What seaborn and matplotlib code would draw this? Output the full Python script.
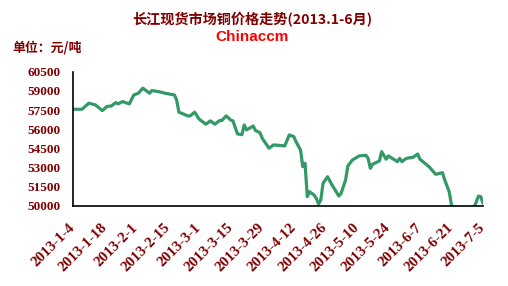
import matplotlib
matplotlib.use("Agg")
import matplotlib.pyplot as plt
import matplotlib.dates as mdates
from matplotlib.transforms import ScaledTranslation
import seaborn as sns
import pandas as pd

# ---- data ----
dates = ["2013-01-04", "2013-01-08", "2013-01-11", "2013-01-14", "2013-01-17", "2013-01-19",
         "2013-01-21", "2013-01-23", "2013-01-24", "2013-01-26", "2013-01-29", "2013-01-31",
         "2013-02-02", "2013-02-04", "2013-02-07", "2013-02-08", "2013-02-11", "2013-02-14",
         "2013-02-18", "2013-02-19", "2013-02-20", "2013-02-24", "2013-02-25", "2013-02-27",
         "2013-03-01", "2013-03-04", "2013-03-06", "2013-03-08", "2013-03-10", "2013-03-11",
         "2013-03-13", "2013-03-15", "2013-03-16", "2013-03-18", "2013-03-20", "2013-03-21",
         "2013-03-22", "2013-03-25", "2013-03-26", "2013-03-28", "2013-03-29", "2013-04-01",
         "2013-04-03", "2013-04-07", "2013-04-08", "2013-04-10", "2013-04-12", "2013-04-13",
         "2013-04-15", "2013-04-16", "2013-04-17", "2013-04-18", "2013-04-19", "2013-04-21",
         "2013-04-22", "2013-04-23", "2013-04-24", "2013-04-25", "2013-04-27", "2013-04-29",
         "2013-05-02", "2013-05-03", "2013-05-05", "2013-05-06", "2013-05-08", "2013-05-10",
         "2013-05-11", "2013-05-14", "2013-05-15", "2013-05-16", "2013-05-17", "2013-05-20",
         "2013-05-21", "2013-05-23", "2013-05-24", "2013-05-28", "2013-05-29", "2013-05-30",
         "2013-06-01", "2013-06-04", "2013-06-06", "2013-06-07", "2013-06-11", "2013-06-14",
         "2013-06-17", "2013-06-18", "2013-06-20", "2013-06-21", "2013-06-24", "2013-06-28",
         "2013-07-01", "2013-07-03", "2013-07-04", "2013-07-05"]
prices = [57570, 57570, 58040, 57910, 57460, 57780,
          57830, 58090, 57990, 58170, 57990, 58690,
          58820, 59220, 58820, 59030, 58950, 58820,
          58690, 58300, 57340, 57050, 57050, 57340,
          56790, 56400, 56660, 56400, 56680, 56680,
          57050, 56730, 56660, 55640, 55580, 56340,
          55950, 56260, 55900, 55740, 55300, 54520,
          54780, 54720, 54700, 55560, 55430, 55030,
          54380, 53080, 53340, 50730, 51120, 50860,
          50600, 50160, 50470, 51780, 52290, 51640,
          50780, 50990, 52040, 53130, 53600, 53810,
          53920, 53970, 53730, 52950, 53270, 53520,
          54250, 53660, 53920, 53470, 53730, 53470,
          53730, 53810, 54070, 53660, 53080, 52480,
          52610, 52040, 51120, 50080, 49500, 49300,
          49850, 50780, 50730, 50210]
tick_dates = ["2013-01-04", "2013-01-18", "2013-02-01", "2013-02-15", "2013-03-01",
              "2013-03-15", "2013-03-29", "2013-04-12", "2013-04-26", "2013-05-10",
              "2013-05-24", "2013-06-07", "2013-06-21", "2013-07-05"]
tick_labels = ["2013-1-4", "2013-1-18", "2013-2-1", "2013-2-15", "2013-3-1",
               "2013-3-15", "2013-3-29", "2013-4-12", "2013-4-26", "2013-5-10",
               "2013-5-24", "2013-6-7", "2013-6-21", "2013-7-5"]
y_ticks = [50000, 51500, 53000, 54500, 56000, 57500, 59000, 60500]

title = "长江现货市场铜价格走势(2013.1-6月)"
subtitle = "Chinaccm"
unit = "单位：元/吨"

# ---- style ----
sns.set_style("white")
plt.rcParams['font.family'] = ['Noto Sans CJK SC', 'DejaVu Sans']
DARK_RED = "#800000"
GREEN = "#339966"

df = pd.DataFrame({"date": pd.to_datetime(dates), "price": prices})

fig = plt.figure(figsize=(5.08, 2.86), dpi=100)
ax = fig.add_axes([73/508, 1 - 206/286, (483 - 73)/508, (206 - 71.8)/286])

sns.lineplot(data=df, x="date", y="price", ax=ax, color=GREEN, linewidth=2.3)

ax.set_xlim(pd.Timestamp("2013-01-04"), pd.Timestamp("2013-07-05"))
ax.set_ylim(50000, 60500)
ax.set_xlabel("")
ax.set_ylabel("")

ax.set_yticks(y_ticks)
ax.set_yticklabels([str(v) for v in y_ticks], family="Liberation Serif",
                   fontweight="bold", fontsize=9.5, color=DARK_RED)

ax.set_xticks(pd.to_datetime(tick_dates))
ax.set_xticklabels(tick_labels, family="Liberation Serif", fontweight="bold",
                   fontsize=10.8, color=DARK_RED, rotation=45, ha="right",
                   va="center", rotation_mode="anchor")
offset = ScaledTranslation(-8/100, 0, fig.dpi_scale_trans)
for lab in ax.get_xticklabels():
    lab.set_transform(lab.get_transform() + offset)

ax.tick_params(axis="both", direction="in", length=3, width=1, color="black")
ax.tick_params(axis="x", pad=14)
ax.tick_params(axis="y", pad=9)

for s in ["top", "right"]:
    ax.spines[s].set_visible(False)
for s in ["left", "bottom"]:
    ax.spines[s].set_color("black")
    ax.spines[s].set_linewidth(1.2)
ax.grid(False)

fig.text(252/508, 1 - 20/286, title, ha="center", va="center", fontsize=10.2,
         fontweight="bold", color=DARK_RED)
fig.text(252/508, 1 - 37/286, subtitle, ha="center", va="center", fontsize=11,
         fontweight="bold", color="#FF0000", family="Liberation Sans")
fig.text(12/508, 1 - 47/286, unit, ha="left", va="center", fontsize=9.3,
         fontweight="bold", color=DARK_RED)

fig.savefig("out.png", dpi=100, facecolor="white")
